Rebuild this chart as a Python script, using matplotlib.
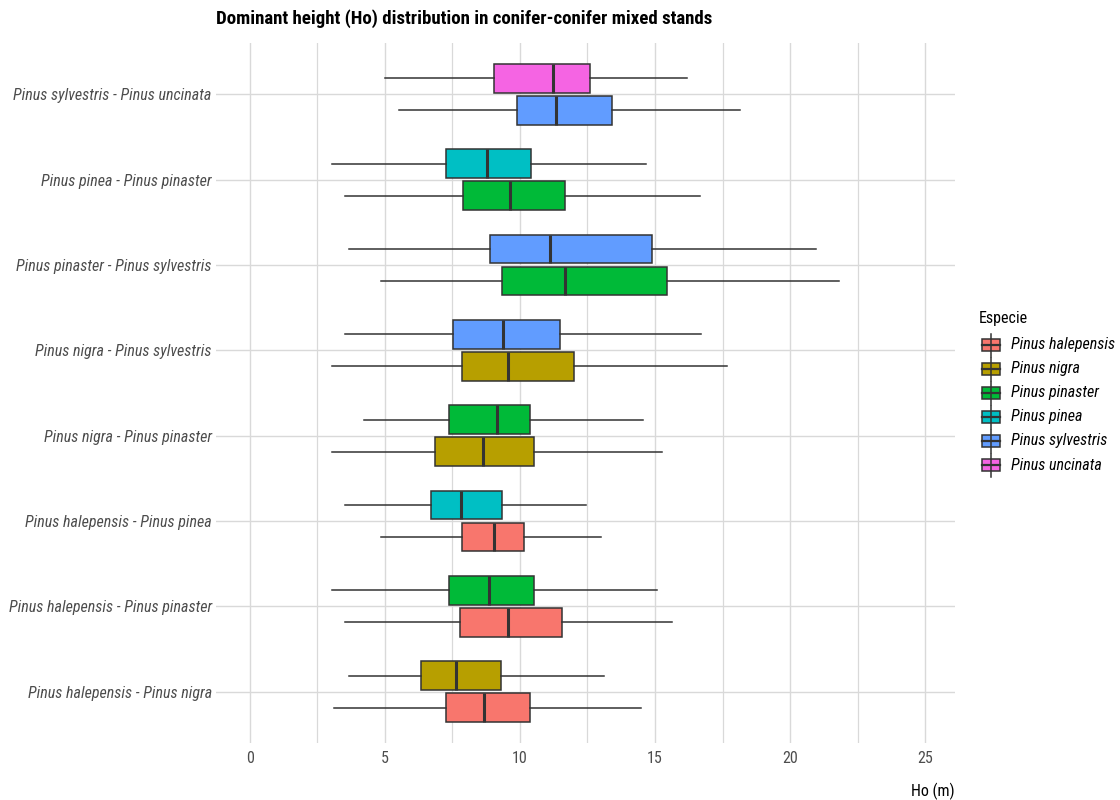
import matplotlib
matplotlib.use("Agg")
import matplotlib.pyplot as plt
from matplotlib.patches import Rectangle
from matplotlib.lines import Line2D

plt.rcParams['font.family'] = ['Liberation Sans Narrow', 'Roboto Condensed', 'Open Sans Condensed',
                               'DejaVu Sans Condensed', 'Liberation Sans']

# Species mixtures (bottom to top)
pairs = [
    "Pinus halepensis - Pinus nigra",
    "Pinus halepensis - Pinus pinaster",
    "Pinus halepensis - Pinus pinea",
    "Pinus nigra - Pinus pinaster",
    "Pinus nigra - Pinus sylvestris",
    "Pinus pinaster - Pinus sylvestris",
    "Pinus pinea - Pinus pinaster",
    "Pinus sylvestris - Pinus uncinata",
]

species = ["Pinus halepensis", "Pinus nigra", "Pinus pinaster",
           "Pinus pinea", "Pinus sylvestris", "Pinus uncinata"]
species_colors = ["#F8766D", "#B79F00", "#00BA38", "#00BFC4", "#619CFF", "#F564E3"]

# First species of each mixture (lower box)
lower_species = ["Pinus halepensis", "Pinus halepensis", "Pinus halepensis", "Pinus nigra",
                 "Pinus nigra", "Pinus pinaster", "Pinus pinaster", "Pinus sylvestris"]
lower_whislo = [3.11, 3.51, 4.85, 3.03, 3.03, 4.85, 3.51, 5.52]
lower_q1 = [7.25, 7.78, 7.85, 6.85, 7.87, 9.32, 7.89, 9.88]
lower_med = [8.67, 9.56, 9.04, 8.63, 9.55, 11.66, 9.63, 11.32]
lower_q3 = [10.37, 11.56, 10.15, 10.51, 12.01, 15.45, 11.68, 13.42]
lower_whishi = [14.49, 15.63, 12.99, 15.27, 17.65, 21.81, 16.66, 18.15]

# Second species of each mixture (upper box)
upper_species = ["Pinus nigra", "Pinus pinaster", "Pinus pinea", "Pinus pinaster",
                 "Pinus sylvestris", "Pinus sylvestris", "Pinus pinea", "Pinus uncinata"]
upper_whislo = [3.68, 3.03, 3.51, 4.22, 3.51, 3.68, 3.03, 5.01]
upper_q1 = [6.34, 7.37, 6.70, 7.38, 7.51, 8.90, 7.25, 9.04]
upper_med = [7.65, 8.87, 7.82, 9.14, 9.39, 11.12, 8.79, 11.21]
upper_q3 = [9.31, 10.51, 9.34, 10.36, 11.48, 14.87, 10.41, 12.58]
upper_whishi = [13.11, 15.08, 12.46, 14.57, 16.70, 20.97, 14.65, 16.17]

x_major = [0, 5, 10, 15, 20, 25]
x_minor = [2.5, 7.5, 12.5, 17.5, 22.5]

W, H = 1120, 800
fig = plt.figure(figsize=(W / 100, H / 100), dpi=100)
left, right, top, bottom = 216, 955, 43, 743
ax = fig.add_axes([left / W, 1 - bottom / H, (right - left) / W, (bottom - top) / H])

grid_col = "#d9d9d9"
edge_col = "#333333"
color_of = dict(zip(species, species_colors))

offset = 0.1875
box_w = 0.3375


def draw_boxes(pos_shift, sp, lo, q1, med, q3, hi):
    stats = []
    for i in range(len(pairs)):
        stats.append(dict(whislo=lo[i], q1=q1[i], med=med[i], q3=q3[i],
                          whishi=hi[i], fliers=[]))
    positions = [i + pos_shift for i in range(len(pairs))]
    res = ax.bxp(stats, positions=positions, widths=box_w, vert=False,
                 patch_artist=True, showcaps=False, showfliers=False,
                 boxprops=dict(edgecolor=edge_col, linewidth=1.1),
                 whiskerprops=dict(color=edge_col, linewidth=1.1),
                 medianprops=dict(color=edge_col, linewidth=2.2, solid_capstyle='butt'),
                 manage_ticks=False, zorder=3)
    for patch, s in zip(res['boxes'], sp):
        patch.set_facecolor(color_of[s])


draw_boxes(-offset, lower_species, lower_whislo, lower_q1, lower_med, lower_q3, lower_whishi)
draw_boxes(offset, upper_species, upper_whislo, upper_q1, upper_med, upper_q3, upper_whishi)

ax.set_xlim(-1.245, 26.1)
ax.set_ylim(-0.6, len(pairs) - 1 + 0.6)
ax.set_xticks(x_major)
ax.set_xticks(x_minor, minor=True)
ax.set_yticks(range(len(pairs)))
ax.set_yticklabels(pairs, fontstyle='italic')
ax.tick_params(axis='both', which='both', length=0, colors="#4d4d4d", labelsize=11.5)
ax.tick_params(axis='x', pad=6)
ax.tick_params(axis='y', pad=3)
ax.grid(True, which='major', axis='both', color=grid_col, linewidth=1.0, zorder=0)
ax.grid(True, which='minor', axis='x', color=grid_col, linewidth=0.9, zorder=0)
ax.set_axisbelow(True)
for s in ax.spines.values():
    s.set_visible(False)

# Axis title at the bottom right
fig.text(right / W, 1 - 791 / H, "Ho (m)", ha='right', va='center', fontsize=11.5, color='black')

# Plot title aligned to the panel
fig.text(left / W, 1 - 18.5 / H, "Dominant height (Ho) distribution in conifer-conifer mixed stands",
         ha='left', va='center', fontsize=13.6, fontweight='bold', color='black')

# Legend drawn in pixel coordinates
lax = fig.add_axes([0, 0, 1, 1], zorder=5)
lax.set_xlim(0, W)
lax.set_ylim(H, 0)
lax.axis('off')
lax.text(979, 319, "Especie", ha='left', va='center', fontsize=11.5, color='black')
for k, (sp, col) in enumerate(zip(species, species_colors)):
    yc = 345 + 24 * k
    lax.add_line(Line2D([991, 991], [yc - 11.5, yc + 11.5], color=edge_col, linewidth=1.1))
    lax.add_patch(Rectangle((982, yc - 6), 18, 12, facecolor=col, edgecolor=edge_col, linewidth=1.1))
    lax.add_line(Line2D([982, 1000], [yc, yc], color=edge_col, linewidth=1.6))
    lax.text(1011, yc, sp, ha='left', va='center', fontsize=11.5, fontstyle='italic', color='black')

fig.savefig("out.png", dpi=100, facecolor='white')
